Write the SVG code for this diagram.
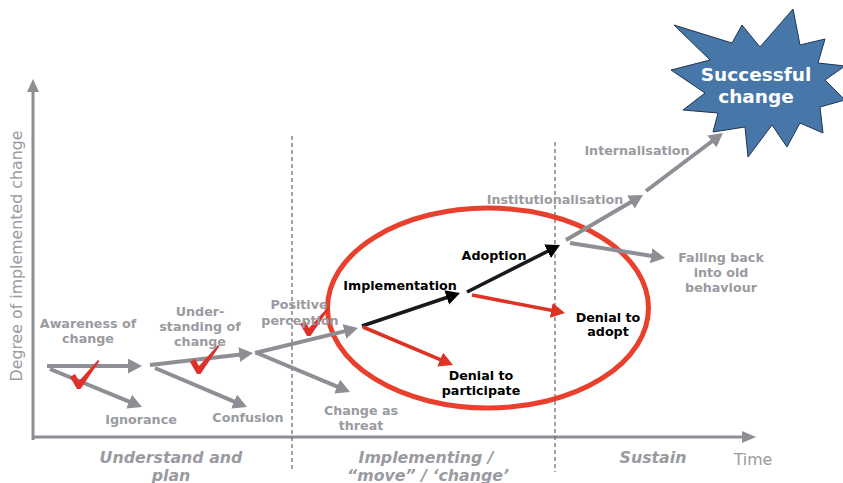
<svg xmlns="http://www.w3.org/2000/svg" width="843" height="483" viewBox="0 0 843 483">
<style>
.lbl{font-family:"DejaVu Sans",Verdana,sans-serif;font-weight:bold;font-size:12.7px;text-anchor:middle;fill:#9a9aa1}
.blk{fill:#000}
.phase{font-family:"DejaVu Sans",Verdana,sans-serif;font-weight:bold;font-style:italic;font-size:15.8px;text-anchor:middle;fill:#9a9aa1}
.axl{font-family:"DejaVu Sans",Verdana,sans-serif;font-size:15.8px;text-anchor:middle;fill:#9a9aa1}
.g{stroke:#8e8e95;stroke-width:4;fill:none;marker-end:url(#mg)}
.k{stroke:#1a1a1a;stroke-width:3.6;fill:none;marker-end:url(#mk)}
.r{stroke:#dd3224;stroke-width:3.6;fill:none;marker-end:url(#mr)}
.dash{stroke:#6f6f6f;stroke-width:1.3;stroke-dasharray:4 3;fill:none}
.chk{fill:#e0302a}
</style>
<defs>
<marker id="mg" markerUnits="userSpaceOnUse" markerWidth="16" markerHeight="16" refX="4" refY="7.5" orient="auto"><path d="M0,0 L14,7.5 L0,15 Z" fill="#8e8e95"/></marker>
<marker id="mk" markerUnits="userSpaceOnUse" markerWidth="16" markerHeight="16" refX="4" refY="7.5" orient="auto"><path d="M0,0 L14,7.5 L0,15 Z" fill="#000"/></marker>
<marker id="mr" markerUnits="userSpaceOnUse" markerWidth="16" markerHeight="16" refX="4" refY="7.5" orient="auto"><path d="M0,0 L14,7.5 L0,15 Z" fill="#dd3224"/></marker>
<path id="check" d="M-8,-11 L-3,-14 L1,-7 L20,-28 L21.5,-27 L2.5,1 L-1,1 Z"/>
</defs>
<rect width="843" height="483" fill="#fff"/>

<g id="axes">
<line x1="33" y1="440" x2="33" y2="90" stroke="#8e8e95" stroke-width="3"/>
<path d="M27,92 L33,79 L39,92 Z" fill="#8e8e95"/>
<line x1="32" y1="437" x2="744" y2="437" stroke="#8e8e95" stroke-width="3"/>
<path d="M742,431 L756,437 L742,443 Z" fill="#8e8e95"/>
<text class="axl" transform="translate(22,256) rotate(-90)">Degree of implemented change</text>
<text class="axl" x="753" y="465">Time</text>
</g>

<g id="phases">
<line class="dash" x1="292" y1="136" x2="292" y2="470"/>
<line class="dash" x1="555" y1="142" x2="555" y2="472"/>
<text class="phase" x="171" y="463">Understand and</text>
<text class="phase" x="171" y="481">plan</text>
<text class="phase" x="426" y="463">Implementing /</text>
<text class="phase" x="428" y="481">“move” / ‘change’</text>
<text class="phase" x="653" y="463">Sustain</text>
</g>

<g id="focus-ellipse">
<ellipse cx="488" cy="308" rx="160.5" ry="100" fill="none" stroke="#e8402d" stroke-width="5"/>
</g>

<g id="connectors">
<line class="g" x1="47" y1="366" x2="132" y2="366"/>
<line class="g" x1="50" y1="369" x2="132.8" y2="403.2"/>
<line class="g" x1="150" y1="365" x2="243.1" y2="354.2"/>
<line class="g" x1="155" y1="368" x2="237.8" y2="403.1"/>
<line class="g" x1="255" y1="353" x2="348.3" y2="330.4"/>
<line class="g" x1="257" y1="353" x2="340.8" y2="388.1"/>
<line class="k" x1="362" y1="326" x2="450.5" y2="296.2"/>
<line class="r" x1="363" y1="327" x2="443.8" y2="361.1"/>
<line class="k" x1="467" y1="292" x2="551.1" y2="249.5"/>
<line class="r" x1="472" y1="295" x2="555.2" y2="311.1"/>
<line class="g" x1="566" y1="240" x2="634.4" y2="200"/>
<line class="g" x1="646" y1="191" x2="715" y2="139"/>
<line class="g" x1="570" y1="243" x2="655.1" y2="256.4"/>
</g>

<g id="checks">
<use href="#check" class="chk" x="78" y="388"/>
<use href="#check" class="chk" x="198" y="373"/>
<use href="#check" class="chk" x="308" y="335"/>
</g>

<g id="n-awareness"><text class="lbl" x="88" y="328">Awareness of</text><text class="lbl" x="88" y="343">change</text></g>
<g id="n-ignorance"><text class="lbl" x="141" y="424">Ignorance</text></g>
<g id="n-understanding"><text class="lbl" x="200" y="316">Under-</text><text class="lbl" x="200" y="331">standing of</text><text class="lbl" x="200" y="346">change</text></g>
<g id="n-confusion"><text class="lbl" x="248" y="422">Confusion</text></g>
<g id="n-positive"><text class="lbl" x="299" y="309">Positive</text><text class="lbl" x="300" y="325">perception</text></g>
<g id="n-threat"><text class="lbl" x="361" y="415">Change as</text><text class="lbl" x="361" y="430">threat</text></g>
<g id="n-implementation"><text class="lbl blk" x="400" y="290">Implementation</text></g>
<g id="n-denial-participate"><text class="lbl blk" x="481" y="380">Denial to</text><text class="lbl blk" x="481" y="395">participate</text></g>
<g id="n-adoption"><text class="lbl blk" x="494" y="260">Adoption</text></g>
<g id="n-denial-adopt"><text class="lbl blk" x="608" y="322">Denial to</text><text class="lbl blk" x="608" y="336">adopt</text></g>
<g id="n-institutionalisation"><text class="lbl" x="555" y="204">Institutionalisation</text></g>
<g id="n-internalisation"><text class="lbl" x="637" y="155">Internalisation</text></g>
<g id="n-falling-back"><text class="lbl" x="721" y="262">Falling back</text><text class="lbl" x="721" y="277">into old</text><text class="lbl" x="721" y="292">behaviour</text></g>

<g id="n-success">
<path d="M793,9 L800,45 L825,39 L818,63 L845,66 L825,80 L845,100 L820,107 L823,133 L800,123 L787,147 L772,125 L748,157 L745,127 L713,132 L718,113 L683,110 L705,93 L671,70 L710,60 L674,25 L732,43 L742,25 L760,47 Z" fill="#4677a8" stroke="#1f3550" stroke-width="1"/>
<text x="756" y="81" font-family="DejaVu Sans,Verdana,sans-serif" font-weight="bold" font-size="18.5" fill="#fff" text-anchor="middle">Successful</text>
<text x="756" y="103" font-family="DejaVu Sans,Verdana,sans-serif" font-weight="bold" font-size="18.5" fill="#fff" text-anchor="middle">change</text>
</g>
</svg>
